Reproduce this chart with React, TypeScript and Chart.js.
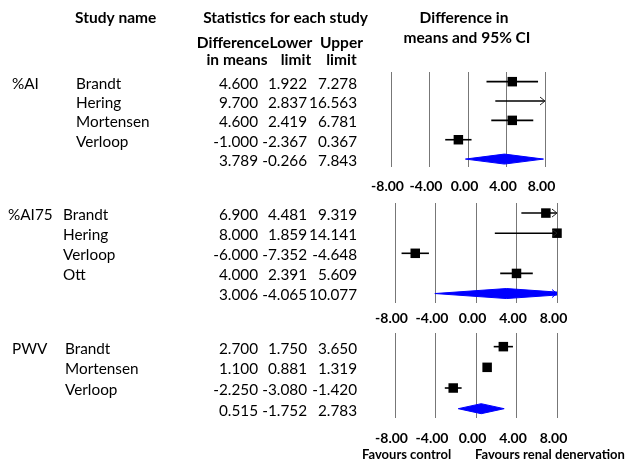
import React, { useEffect, useRef } from "react";
import { Chart, registerables } from "chart.js";

Chart.register(...registerables);

// ---------- data ----------
const groupLabels = ["%AI", "%AI75", "PWV"];

const aiStudies = ["Brandt", "Hering", "Mortensen", "Verloop"];
const aiMean = [4.6, 9.7, 4.6, -1.0];
const aiLower = [1.922, 2.837, 2.419, -2.367];
const aiUpper = [7.278, 16.563, 6.781, 0.367];
const aiSummary = [3.789, -0.266, 7.843];

const ai75Studies = ["Brandt", "Hering", "Verloop", "Ott"];
const ai75Mean = [6.9, 8.0, -6.0, 4.0];
const ai75Lower = [4.481, 1.859, -7.352, 2.391];
const ai75Upper = [9.319, 14.141, -4.648, 5.609];
const ai75Summary = [3.006, -4.065, 10.077];

const pwvStudies = ["Brandt", "Mortensen", "Verloop"];
const pwvMean = [2.7, 1.1, -2.25];
const pwvLower = [1.75, 0.881, -3.08];
const pwvUpper = [3.65, 1.319, -1.42];
const pwvSummary = [0.515, -1.752, 2.783];

const xTickValues = [-8, -4, 0, 4, 8];
const xMin = -8;
const xMax = 8;

const headerStudy = "Study name";
const headerStats = "Statistics for each study";
const headerPlot = ["Difference in", "means and 95% CI"];
const colHeads = [
  ["Difference", "in means"],
  ["Lower", "limit"],
  ["Upper", "limit"],
];
const favoursLeft = "Favours control";
const favoursRight = "Favours renal denervation";

// ---------- styles / layout ----------
const FAMILY = "Lato, 'DejaVu Sans', sans-serif";
const BODY_FONT = `15.3px ${FAMILY}`;
const BOLD_FONT = `bold 15.5px ${FAMILY}`;
const FOOT_FONT = `bold 13px ${FAMILY}`;
const TICK_SIZE = 14;
const LINE_H = TICK_SIZE * 1.2;
const COL_RIGHT = [258, 307, 357];
const TEXT_DY = 2;
const SQUARE_SIDE = 9.5;
const DIAMOND_HALF_PX = 5;
const GRID_COLOR = "#777777";
const BLUE = "#0000ff";

type Layout = {
  canvasTop: number;
  canvasHeight: number;
  left: number;
  right: number;
  top: number;
  bottom: number;
  yMin: number;
  yMax: number;
  labelGap: number;
  groupX: number;
  nameX: number;
};

type Panel = {
  group: string;
  studies: string[];
  mean: number[];
  lower: number[];
  upper: number[];
  summary: number[];
  layout: Layout;
  header?: boolean;
  footer?: boolean;
};

const panels: Panel[] = [
  {
    group: groupLabels[0],
    studies: aiStudies,
    mean: aiMean,
    lower: aiLower,
    upper: aiUpper,
    summary: aiSummary,
    header: true,
    layout: { canvasTop: 0, canvasHeight: 210, left: 391, right: 545, top: 72, bottom: 167, yMin: -0.5, yMax: 4.41, labelGap: 19, groupX: 12, nameX: 76 },
  },
  {
    group: groupLabels[1],
    studies: ai75Studies,
    mean: ai75Mean,
    lower: ai75Lower,
    upper: ai75Upper,
    summary: ai75Summary,
    layout: { canvasTop: 190, canvasHeight: 150, left: 395, right: 557, top: 203, bottom: 303, yMin: -0.5, yMax: 4.47, labelGap: 15.5, groupX: 8, nameX: 63 },
  },
  {
    group: groupLabels[2],
    studies: pwvStudies,
    mean: pwvMean,
    lower: pwvLower,
    upper: pwvUpper,
    summary: pwvSummary,
    footer: true,
    layout: { canvasTop: 320, canvasHeight: 143, left: 395, right: 557, top: 333, bottom: 418, yMin: -0.66, yMax: 3.45, labelGap: 20, groupX: 12, nameX: 65 },
  },
];

function drawArrow(ctx: CanvasRenderingContext2D, x: number, y: number, dir: number, color: string) {
  ctx.save();
  ctx.strokeStyle = color;
  ctx.lineWidth = 1;
  ctx.beginPath();
  ctx.moveTo(x - dir * 5, y - 4);
  ctx.lineTo(x, y);
  ctx.lineTo(x - dir * 5, y + 4);
  ctx.stroke();
  ctx.restore();
}

function ForestPanel({ panel }: { panel: Panel }) {
  const ref = useRef<HTMLCanvasElement>(null);
  const L = panel.layout;

  useEffect(() => {
    const canvas = ref.current;
    if (!canvas) return;
    const n = panel.studies.length;
    const rowPx = (L.bottom - L.top) / (L.yMax - L.yMin);
    const dh = DIAMOND_HALF_PX / rowPx;
    const tickPad = L.labelGap - LINE_H / 2;
    const axisH = LINE_H + 2 * tickPad;
    const padBottom = L.canvasHeight - (L.bottom - L.canvasTop) - axisH;

    const ciSets = panel.studies.map((s, i) => ({
      type: "scatter" as const,
      label: s + " CI",
      data: [
        { x: panel.lower[i], y: i },
        { x: panel.upper[i], y: i },
      ],
      showLine: true,
      borderColor: "#000",
      borderWidth: 1.6,
      pointRadius: 0,
      pointHoverRadius: 0,
      order: 3,
    }));

    const squareSet = {
      type: "scatter" as const,
      label: "Difference in means",
      data: panel.mean.map((m, i) => ({ x: m, y: i })),
      showLine: false,
      pointStyle: "rect" as const,
      pointRadius: SQUARE_SIDE / Math.SQRT2,
      pointHoverRadius: SQUARE_SIDE / Math.SQRT2,
      backgroundColor: "#000",
      borderColor: "#000",
      borderWidth: 0,
      clip: 8,
      order: 1,
    };

    const [sm, slo, shi] = panel.summary;
    const diamondSet = {
      type: "scatter" as const,
      label: "Summary",
      data: [
        { x: slo, y: n },
        { x: sm, y: n - dh },
        { x: shi, y: n },
        { x: sm, y: n + dh },
        { x: slo, y: n },
      ],
      showLine: true,
      fill: "shape",
      borderColor: BLUE,
      backgroundColor: BLUE,
      borderWidth: 1,
      pointRadius: 0,
      pointHoverRadius: 0,
      order: 2,
    };

    const arrowPlugin = {
      id: "arrows",
      afterDatasetsDraw(chart: any) {
        const ctx = chart.ctx;
        const xs = chart.scales.x;
        const ys = chart.scales.y;
        panel.upper.forEach((u, i) => {
          if (u > xMax) drawArrow(ctx, xs.getPixelForValue(xMax), ys.getPixelForValue(i), 1, "#222");
        });
        panel.lower.forEach((l, i) => {
          if (l < xMin) drawArrow(ctx, xs.getPixelForValue(xMin), ys.getPixelForValue(i), -1, "#222");
        });
        if (shi > xMax) drawArrow(ctx, xs.getPixelForValue(xMax), ys.getPixelForValue(n), 1, BLUE);
        if (slo < xMin) drawArrow(ctx, xs.getPixelForValue(xMin), ys.getPixelForValue(n), -1, BLUE);
      },
    };

    const textPlugin = {
      id: "forestText",
      afterDraw(chart: any) {
        const ctx: CanvasRenderingContext2D = chart.ctx;
        const ys = chart.scales.y;
        const off = L.canvasTop;
        ctx.save();
        ctx.fillStyle = "#000";
        ctx.textBaseline = "middle";
        ctx.font = BODY_FONT;
        ctx.textAlign = "left";
        ctx.fillText(panel.group, L.groupX, ys.getPixelForValue(0) + TEXT_DY);
        panel.studies.forEach((s, i) => {
          ctx.fillText(s, L.nameX, ys.getPixelForValue(i) + TEXT_DY);
        });
        ctx.textAlign = "right";
        for (let i = 0; i <= n; i++) {
          const vals = i < n ? [panel.mean[i], panel.lower[i], panel.upper[i]] : panel.summary;
          vals.forEach((v, j) => {
            ctx.fillText(v.toFixed(3), COL_RIGHT[j], ys.getPixelForValue(i) + TEXT_DY);
          });
        }
        if (panel.header) {
          ctx.font = BOLD_FONT;
          ctx.textAlign = "left";
          ctx.fillText(headerStudy, 75, 18 - off);
          ctx.textAlign = "center";
          ctx.fillText(headerStats, 285.5, 18 - off);
          ctx.fillText(headerPlot[0], 464, 18 - off);
          ctx.fillText(headerPlot[1], 467, 38 - off);
          const c1 = [233, 291, 341.5];
          const c2 = [237, 296, 341.5];
          colHeads.forEach((h, j) => {
            ctx.fillText(h[0], c1[j], 43 - off);
            ctx.fillText(h[1], c2[j], 60 - off);
          });
        }
        if (panel.footer) {
          ctx.font = FOOT_FONT;
          ctx.textAlign = "left";
          ctx.fillText(favoursLeft, 362, 455 - off);
          ctx.fillText(favoursRight, 475, 455 - off);
        }
        ctx.restore();
      },
    };

    const chart = new Chart(canvas, {
      type: "scatter",
      data: { datasets: [...ciSets, squareSet, diamondSet] as any },
      options: {
        animation: false,
        responsive: false,
        events: [],
        layout: {
          padding: {
            left: L.left,
            right: 636 - L.right,
            top: L.top - L.canvasTop,
            bottom: padBottom,
          },
        },
        plugins: {
          legend: { display: false },
          tooltip: { enabled: false },
        },
        scales: {
          x: {
            type: "linear",
            min: xMin,
            max: xMax,
            afterBuildTicks: (axis: any) => {
              axis.ticks = xTickValues.map((v) => ({ value: v }));
            },
            grid: { display: true, drawTicks: false, color: GRID_COLOR, lineWidth: 1 },
            border: { display: false },
            ticks: {
              padding: tickPad,
              labelOffset: -3.5,
              maxRotation: 0,
              color: "#000",
              font: { family: FAMILY, size: TICK_SIZE, weight: "bold" },
              callback: (v: any) => Number(v).toFixed(2),
            },
          },
          y: {
            type: "linear",
            display: false,
            reverse: true,
            min: L.yMin,
            max: L.yMax,
          },
        },
      } as any,
      plugins: [arrowPlugin, textPlugin],
    });
    return () => chart.destroy();
  }, []);

  return (
    <canvas
      ref={ref}
      width={636}
      height={L.canvasHeight}
      style={{ position: "absolute", left: 0, top: L.canvasTop, width: 636, height: L.canvasHeight }}
    />
  );
}

export default function App() {
  return (
    <div style={{ position: "fixed", left: 0, top: 0, width: 636, height: 463, background: "#fff", overflow: "hidden" }}>
      {panels.map((p, i) => (
        <ForestPanel key={i} panel={p} />
      ))}
    </div>
  );
}
